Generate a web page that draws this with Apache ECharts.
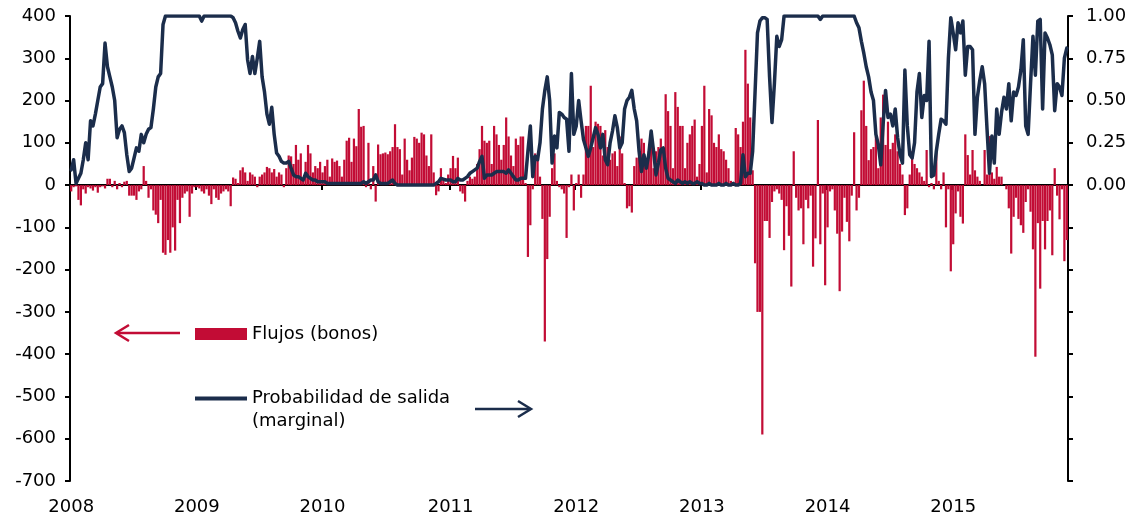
<!DOCTYPE html>
<html>
<head>
<meta charset="utf-8">
<script src="https://cdn.jsdelivr.net/npm/echarts@6/dist/echarts.min.js"></script>
<style>
html, body { margin: 0; padding: 0; background: #fff; }
#mainChart { width: 1142px; height: 523px; }
</style>
</head>
<body>
<div id="mainChart"></div>
<script>
// flujos semanales (bonos), un array por año
var flujos2008 = [-15, -5, -3, -35, -48, -10, -20, -5, -8, -13, -5, -18, -5, -3, -8, 15, 15, -5, 10, -10, 5, -5, 8, 10, -25, -25, -25, -35, -15, -10, 45, 10, -30, -10, -60, -70, -90, -35, -160, -165, -130, -160, -100, -155, -35, -90, -30, -20, -15, -75, -20, -5]
var flujos2009 = [-5, -8, -15, -20, -10, -25, -45, -10, -30, -35, -20, -15, -10, -15, -50, 18, 15, 5, 35, 42, 30, 10, 30, 25, 20, -5, 20, 25, 30, 43, 40, 30, 38, 20, 30, 25, -5, 40, 70, 68, 50, 95, 60, 75, 10, 55, 95, 75, 30, 45, 40, 55]
var flujos2010 = [30, 45, 60, 20, 63, 55, 58, 45, 20, 60, 105, 112, 55, 110, 92, 180, 138, 140, -5, 100, -10, 45, -39, 96, 73, 75, 77, 73, 80, 90, 144, 90, 85, 25, 110, 60, 35, 65, 114, 110, 100, 124, 120, 70, 45, 120, 30, -24, -15, 40, 15, 5, 25]
var flujos2011 = [40, 69, 40, 65, -15, -20, -39, 10, 20, 15, 20, 50, 85, 140, 105, 100, 105, 50, 140, 120, 95, 60, 95, 160, 115, 70, 45, 110, 95, 115, 115, 5, -170, -95, -10, 75, 65, 20, -80, -370, -175, -75, 40, 75, 10, -5, -10, -20, -125, -5, 25, -60]
var flujos2012 = [5, 25, -30, 25, 140, 140, 235, 90, 150, 145, 140, 70, 130, 90, 60, 75, 80, 45, 115, 75, 5, -55, -50, -65, 45, 65, 85, 110, 100, 60, 80, 90, 40, 80, 90, 110, 80, 215, 175, 140, 40, 220, 185, 140, 140, 40, 100, 120, 140, 155, 20, 50]
var flujos2013 = [140, 235, 30, 180, 165, 100, 90, 120, 85, 80, 60, 40, 10, 5, 135, 120, 90, 150, 320, 240, 160, 35, -185, -300, -300, -590, -85, -85, -125, -40, -15, -10, -20, -35, -154, -50, -120, -240, 80, -30, -60, -55, -140, -35, -55, -25, -193, -126, 154, -140, -20, -237]
var flujos2014 = [-100, -15, -10, -60, -115, -251, -110, -30, -87, -133, -25, 125, -60, -30, 177, 247, 140, 59, 85, 90, 115, 40, 160, 214, 95, 150, 85, 100, 120, 80, 50, 25, -71, -55, 25, 80, 50, 40, 30, 20, 10, 83, -5, 5, -10, 87, 10, -10, 30, -100, -10, -204]
var flujos2015 = [-140, -67, -15, -75, -91, 120, 71, 25, 83, 35, 20, 10, 0, 83, 25, 116, 30, 15, 43, 20, 20, 0, -10, -55, -162, -75, -30, -80, -95, -113, -40, -10, -63, -152, -406, -90, -245, -85, -152, -85, -60, -166, 40, -25, -81, -10, -180, -130]

// probabilidad de salida (marginal), eje derecho
var prob2008 = [0.09, 0.15, 0.01, 0.04, 0.07, 0.15, 0.25, 0.15, 0.38, 0.35, 0.42, 0.50, 0.58, 0.60, 0.84, 0.70, 0.64, 0.58, 0.50, 0.28, 0.33, 0.35, 0.31, 0.18, 0.08, 0.10, 0.16, 0.22, 0.20, 0.30, 0.25, 0.30, 0.33, 0.34, 0.45, 0.58, 0.64, 0.66, 0.95, 1, 1, 1, 1, 1, 1, 1, 1, 1, 1, 1, 1, 1]
var prob2009 = [1, 1, 0.97, 1, 1, 1, 1, 1, 1, 1, 1, 1, 1, 1, 1, 0.99, 0.96, 0.91, 0.87, 0.92, 0.95, 0.74, 0.66, 0.76, 0.66, 0.75, 0.85, 0.64, 0.55, 0.42, 0.36, 0.46, 0.30, 0.19, 0.17, 0.14, 0.13, 0.13, 0.14, 0.10, 0.06, 0.05, 0.05, 0.04, 0.03, 0.07, 0.05, 0.04, 0.03, 0.03, 0.02, 0.02]
var prob2010 = [0.02, 0.02, 0.01, 0.01, 0.01, 0.01, 0.01, 0.01, 0.01, 0.01, 0.01, 0.01, 0.01, 0.01, 0.01, 0.01, 0.01, 0.02, 0.01, 0.02, 0.03, 0.03, 0.06, 0.02, 0.01, 0.01, 0.01, 0.01, 0.02, 0.03, 0.01, 0, 0, 0, 0, 0, 0, 0, 0, 0, 0, 0, 0, 0, 0, 0, 0, 0.01, 0.02, 0.04, 0.035, 0.03, 0.03]
var prob2011 = [0.03, 0.02, 0.02, 0.04, 0.03, 0.03, 0.04, 0.05, 0.07, 0.08, 0.09, 0.10, 0.14, 0.17, 0.04, 0.06, 0.06, 0.06, 0.07, 0.08, 0.08, 0.08, 0.08, 0.07, 0.09, 0.07, 0.05, 0.03, 0.03, 0.04, 0.04, 0.04, 0.2, 0.35, 0.05, 0.17, 0.15, 0.25, 0.45, 0.56, 0.64, 0.5, 0.13, 0.29, 0.22, 0.43, 0.42, 0.4, 0.39, 0.2, 0.66, 0.3]
var prob2012 = [0.35, 0.5, 0.38, 0.27, 0.22, 0.17, 0.22, 0.28, 0.34, 0.3, 0.22, 0.3, 0.15, 0.12, 0.25, 0.32, 0.41, 0.34, 0.22, 0.25, 0.45, 0.5, 0.52, 0.56, 0.45, 0.38, 0.2, 0.08, 0.18, 0.1, 0.18, 0.32, 0.2, 0.06, 0.13, 0.21, 0.22, 0.1, 0.04, 0.03, 0.02, 0.01, 0.03, 0.02, 0.01, 0.02, 0.01, 0.02, 0.01, 0.01, 0.02, 0.01]
var prob2013 = [0.01, 0, 0, 0.01, 0, 0, 0, 0.01, 0, 0, 0.01, 0, 0, 0.01, 0, 0, 0.01, 0.18, 0.05, 0.07, 0.07, 0.2, 0.55, 0.9, 0.97, 0.99, 0.99, 0.98, 0.64, 0.37, 0.6, 0.88, 0.82, 0.86, 1, 1, 1, 1, 1, 1, 1, 1, 1, 1, 1, 1, 1, 1, 1, 0.98, 1, 1]
var prob2014 = [1, 1, 1, 1, 1, 1, 1, 1, 1, 1, 1, 1, 0.96, 0.93, 0.85, 0.78, 0.7, 0.64, 0.55, 0.5, 0.3, 0.24, 0.12, 0.36, 0.56, 0.4, 0.42, 0.35, 0.45, 0.28, 0.18, 0.13, 0.68, 0.35, 0.18, 0.16, 0.25, 0.55, 0.66, 0.4, 0.53, 0.5, 0.85, 0.05, 0.06, 0.2, 0.3, 0.39, 0.38, 0.36, 0.75, 0.99]
var prob2015 = [0.9, 0.8, 0.96, 0.9, 0.97, 0.65, 0.82, 0.82, 0.8, 0.3, 0.52, 0.62, 0.7, 0.6, 0.33, 0.07, 0.29, 0.13, 0.45, 0.3, 0.43, 0.52, 0.45, 0.6, 0.38, 0.55, 0.53, 0.58, 0.68, 0.86, 0.35, 0.3, 0.6, 0.88, 0.65, 0.97, 0.98, 0.45, 0.9, 0.87, 0.83, 0.77, 0.44, 0.6, 0.58, 0.53, 0.75, 0.81]

var nombreFlujos = 'Flujos (bonos)'
var nombreProb = 'Probabilidad de salida\n(marginal)'

var rojo = '#C20C35'
var azul = '#1B2D4B'
var fuente = 'DejaVu Sans, Liberation Sans, Arial, sans-serif'
var tamFuente = 18

var flujos = [].concat(flujos2008, flujos2009, flujos2010, flujos2011, flujos2012, flujos2013, flujos2014, flujos2015)
var prob = [].concat(prob2008, prob2009, prob2010, prob2011, prob2012, prob2013, prob2014, prob2015)

// fechas semanales (viernes) desde el 4 de enero de 2008
var fechas = []
var t0 = Date.UTC(2008, 0, 4)
for (var i = 0; i < flujos.length; i++) {
    fechas.push(new Date(t0 + i * 7 * 86400000).toISOString().slice(0, 10))
}

function inicioAnio(i) {
    return i === 0 || fechas[i].slice(0, 4) !== fechas[i - 1].slice(0, 4)
}

var myChart = echarts.init(document.getElementById('mainChart'))

var option = {
    animation: false,
    backgroundColor: '#fff',
    textStyle: { fontFamily: fuente },
    grid: { left: 70, right: 74, top: 16, bottom: 42, containLabel: false, outerBoundsMode: 'none' },
    legend: [
        {
            data: [nombreFlujos],
            left: 195, top: 325, padding: 0,
            icon: 'rect', itemWidth: 52, itemHeight: 12,
            textStyle: { fontSize: tamFuente, color: '#000', fontFamily: fuente }
        },
        {
            // linea en blanco arriba para que el icono quede en la primera linea del texto
            data: [nombreProb],
            left: 195, top: 364, padding: 0,
            icon: 'rect', itemWidth: 52, itemHeight: 4,
            formatter: function (name) { return '\u00a0\n' + name },
            textStyle: { fontSize: tamFuente, color: '#000', fontFamily: fuente, lineHeight: 23 }
        }
    ],
    xAxis: [
        {
            // solo etiquetas de años, abajo
            type: 'category',
            data: fechas,
            position: 'bottom',
            axisLine: { show: false, onZero: false },
            axisTick: { show: false },
            splitLine: { show: false },
            axisLabel: {
                interval: function (i) { return inicioAnio(i) },
                formatter: function (v) { return v.slice(0, 4) },
                hideOverlap: false,
                fontSize: tamFuente, color: '#000', margin: 17, fontFamily: fuente
            }
        },
        {
            // linea del cero con marcas de año
            type: 'category',
            data: fechas,
            position: 'bottom',
            axisLine: { show: true, onZero: true, lineStyle: { color: '#000', width: 2 } },
            axisTick: {
                show: true, length: 5,
                interval: function (i) { return i > 0 && inicioAnio(i) },
                lineStyle: { color: '#000', width: 2 }
            },
            axisLabel: { show: false },
            splitLine: { show: false }
        }
    ],
    yAxis: [
        {
            type: 'value',
            position: 'left',
            min: -700, max: 400, interval: 100,
            axisLine: { show: true, lineStyle: { color: '#000', width: 2 } },
            axisTick: { show: true, length: 5, lineStyle: { color: '#000', width: 2 } },
            axisLabel: { fontSize: tamFuente, color: '#000', margin: 14, fontFamily: fuente },
            splitLine: { show: false }
        },
        {
            type: 'value',
            position: 'right',
            min: -1.75, max: 1, interval: 0.25,
            axisLine: { show: true, lineStyle: { color: '#000', width: 2 } },
            axisTick: { show: true, length: 5, lineStyle: { color: '#000', width: 2 } },
            axisLabel: {
                fontSize: tamFuente, color: '#000', margin: 18, fontFamily: fuente,
                formatter: function (v) { return v >= 0 ? v.toFixed(2) : '' }
            },
            splitLine: { show: false }
        }
    ],
    series: [
        {
            name: nombreFlujos,
            type: 'bar',
            xAxisIndex: 1,
            yAxisIndex: 0,
            data: flujos,
            barCategoryGap: '8%',
            itemStyle: { color: rojo }
        },
        {
            name: nombreProb,
            type: 'line',
            xAxisIndex: 1,
            yAxisIndex: 1,
            data: prob,
            symbol: 'none',
            itemStyle: { color: azul },
            lineStyle: { color: azul, width: 3.5, join: 'round', cap: 'round' }
        }
    ],
    // flechas que indican el eje de cada serie
    graphic: [
        { type: 'line', shape: { x1: 180, y1: 333, x2: 117, y2: 333 }, style: { stroke: rojo, lineWidth: 2.5 } },
        { type: 'polyline', shape: { points: [[129, 325], [116, 333], [129, 341]] }, style: { stroke: rojo, lineWidth: 2.5, fill: null } },
        { type: 'line', shape: { x1: 475, y1: 409, x2: 530, y2: 409 }, style: { stroke: azul, lineWidth: 2.5 } },
        { type: 'polyline', shape: { points: [[518, 401], [531, 409], [518, 417]] }, style: { stroke: azul, lineWidth: 2.5, fill: null } }
    ]
}

myChart.setOption(option)
</script>
</body>
</html>
